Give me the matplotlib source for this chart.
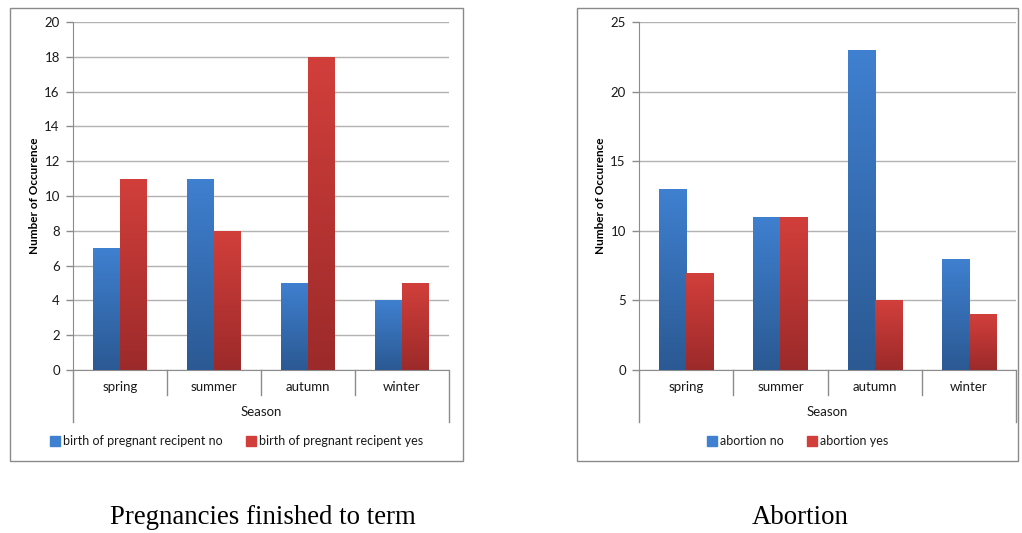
import matplotlib

matplotlib.use("Agg")
import matplotlib.pyplot as plt
import numpy as np
from matplotlib.colors import LinearSegmentedColormap
from matplotlib.lines import Line2D
from matplotlib.patches import Rectangle

plt.rcParams["font.family"] = ["Lato", "DejaVu Sans"]

seasons = ["spring", "summer", "autumn", "winter"]
birth_no = [7, 11, 5, 4]
birth_yes = [11, 8, 18, 5]
abortion_no = [13, 11, 23, 8]
abortion_yes = [7, 11, 5, 4]

BLUE = ("#2b5993", "#3f80d0")  # bottom, top
RED = ("#9c2a2a", "#d23f3b")
GRID = "#b2b2b2"
AXIS = "#8c8c8c"
BAR_W = 0.287


def gradient_bars(ax, xs, heights, colors):
    cmap = LinearSegmentedColormap.from_list("g", colors)
    bars = ax.bar(xs, heights, width=BAR_W, color=colors[1], zorder=2)
    grad = np.linspace(0, 1, 256).reshape(-1, 1)
    for b in bars:
        x0, w, h = b.get_x(), b.get_width(), b.get_height()
        im = ax.imshow(grad, cmap=cmap, origin="lower", aspect="auto",
                       extent=[x0, x0 + w, 0, h], zorder=3)
        im.set_clip_path(b)
    return bars


def draw_panel(fig, rect, box, no, yes, ymax, step, names):
    ax = fig.add_axes(rect)
    x = np.arange(len(seasons))
    gradient_bars(ax, x - BAR_W / 2, no, BLUE)
    gradient_bars(ax, x + BAR_W / 2, yes, RED)
    ax.set_xlim(-0.5, len(seasons) - 0.5)
    ax.set_ylim(0, ymax)
    ax.set_yticks(np.arange(0, ymax + 1, step))
    ax.set_xticks(x, seasons)
    ax.tick_params(axis="x", length=0, pad=8, labelsize=9.5, labelcolor="#1a1a1a")
    ax.tick_params(axis="y", length=5, width=1, color=AXIS, pad=4.5,
                   labelsize=9.5, labelcolor="#1a1a1a")
    for s in ("top", "right"):
        ax.spines[s].set_visible(False)
    for s in ("left", "bottom"):
        ax.spines[s].set_color(AXIS)
    ax.yaxis.grid(True, color=GRID, lw=1)
    ax.set_axisbelow(True)
    ax.set_ylabel("Number of Occurence", fontsize=8.5, fontweight="bold")
    ax.yaxis.set_label_coords(-0.088, 0.5)

    # multi-level category axis: short separators and tall outer edges
    tr = ax.get_xaxis_transform()
    for b in np.arange(0.5, len(seasons) - 1, 1.0):
        ax.add_line(Line2D([b, b], [0, -0.072], transform=tr, color=AXIS,
                           lw=1, clip_on=False))
    for b in (-0.5, len(seasons) - 0.5):
        ax.add_line(Line2D([b, b], [0, -0.15], transform=tr, color=AXIS,
                           lw=1, clip_on=False))
    ax.text(0.5, -0.121, "Season", transform=ax.transAxes, ha="center",
            va="center", fontsize=9.5, color="#1a1a1a")

    bx, by, bw, bh = box
    fig.patches.append(Rectangle((bx, by), bw, bh, transform=fig.transFigure,
                                 fill=False, edgecolor="#8a8a8a", lw=1))
    handles = [Line2D([], [], ls="", marker="s", markersize=7, color=BLUE[1]),
               Line2D([], [], ls="", marker="s", markersize=7, color=RED[1])]
    fig.legend(handles, names, loc="center", ncol=2, frameon=False,
               bbox_to_anchor=(bx + bw / 2, 1 - 441 / 533),
               handlelength=0.8, handletextpad=0.2, columnspacing=1.9,
               fontsize=9, labelcolor="#1a1a1a")
    return ax


W, H = 1022, 533
fig = plt.figure(figsize=(W / 100, H / 100), dpi=100)

draw_panel(fig,
           [73 / W, 1 - 370 / H, 376 / W, 348 / H],
           [10 / W, 1 - 461 / H, 453 / W, 453 / H],
           birth_no, birth_yes, 20, 2,
           ["birth of pregnant recipent no", "birth of pregnant recipent yes"])
draw_panel(fig,
           [639 / W, 1 - 370 / H, 377 / W, 348 / H],
           [577 / W, 1 - 461 / H, 441 / W, 453 / H],
           abortion_no, abortion_yes, 25, 5,
           ["abortion no", "abortion yes"])

fig.text(263 / W, 1 - 517 / H, "Pregnancies finished to term",
         family="Liberation Serif", fontsize=19.3, ha="center", va="center")
fig.text(800 / W, 1 - 517 / H, "Abortion",
         family="Liberation Serif", fontsize=19.3, ha="center", va="center")

fig.savefig("out.png", dpi=100)
